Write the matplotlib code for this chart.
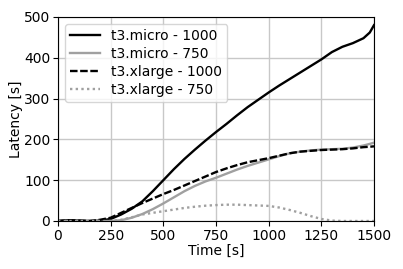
import matplotlib
matplotlib.use("Agg")
import matplotlib.pyplot as plt
import numpy as np

t = [0, 50, 100, 150, 200, 250, 300, 350, 400, 450, 500, 550, 600, 650, 700, 750,
     800, 850, 900, 950, 1000, 1050, 1100, 1150, 1200, 1250, 1300, 1350, 1400, 1450, 1480, 1500]

micro_1000 = [0, 2, 1, 0, 1, 5, 16, 30, 48, 73, 100, 127, 152, 175, 197, 218,
              238, 259, 279, 297, 315, 332, 348, 364, 380, 396, 414, 427, 436, 448, 462, 480]
micro_750 = [0, 0, 0, 0, 0, 0, 2, 8, 17, 29, 43, 58, 73, 86, 97, 106,
             116, 126, 135, 143, 151, 159, 166, 170, 173, 175, 176, 177, 180, 185, 189, 192]
xlarge_1000 = [0, 2, 1, 0, 3, 8, 20, 32, 44, 55, 66, 76, 87, 98, 109, 120,
               129, 137, 144, 149, 154, 160, 166, 170, 172, 174, 175, 176, 178, 181, 182, 183]
xlarge_750 = [0, 0, 0, 0, 0, 0, 3, 9, 16, 20, 24, 28, 32, 35, 37.5, 39,
              40, 40, 39, 38, 37, 33, 27, 20, 12, 5, 1, 0, 0, 0, 0, 0]

fig = plt.figure(figsize=(4.03, 2.69), dpi=100)
ax = fig.add_axes([58/403, 1-221/269, (374-58)/403, (221-17)/269])

gray = "#a0a0a0"
lw = 1.7
ax.plot(t, micro_1000, color="black", lw=lw, label="t3.micro - 1000")
ax.plot(t, micro_750, color=gray, lw=lw, label="t3.micro - 750")
ax.plot(t, xlarge_1000, color="black", lw=lw, ls=(0, (3.2, 1.1)), label="t3.xlarge - 1000")
ax.plot(t, xlarge_750, color=gray, lw=lw, ls=(0, (1, 1.4)), label="t3.xlarge - 750")

fs = 10
ax.set_xlim(0, 1500)
ax.set_ylim(0, 500)
ax.set_xticks([0, 250, 500, 750, 1000, 1250, 1500])
ax.set_yticks([0, 100, 200, 300, 400, 500])
ax.grid(True, color="#c8c8c8", lw=1.0)
ax.tick_params(labelsize=fs, length=3.5, pad=2)
ax.set_xlabel("Time [s]", fontsize=fs, labelpad=1)
ax.set_ylabel("Latency [s]", fontsize=fs, labelpad=1)
ax.legend(loc="upper left", fontsize=fs, handlelength=2.2, labelspacing=0.3,
          borderaxespad=0.5, borderpad=0.35, handletextpad=0.8, framealpha=0.8)

fig.savefig("out.png", dpi=100)
